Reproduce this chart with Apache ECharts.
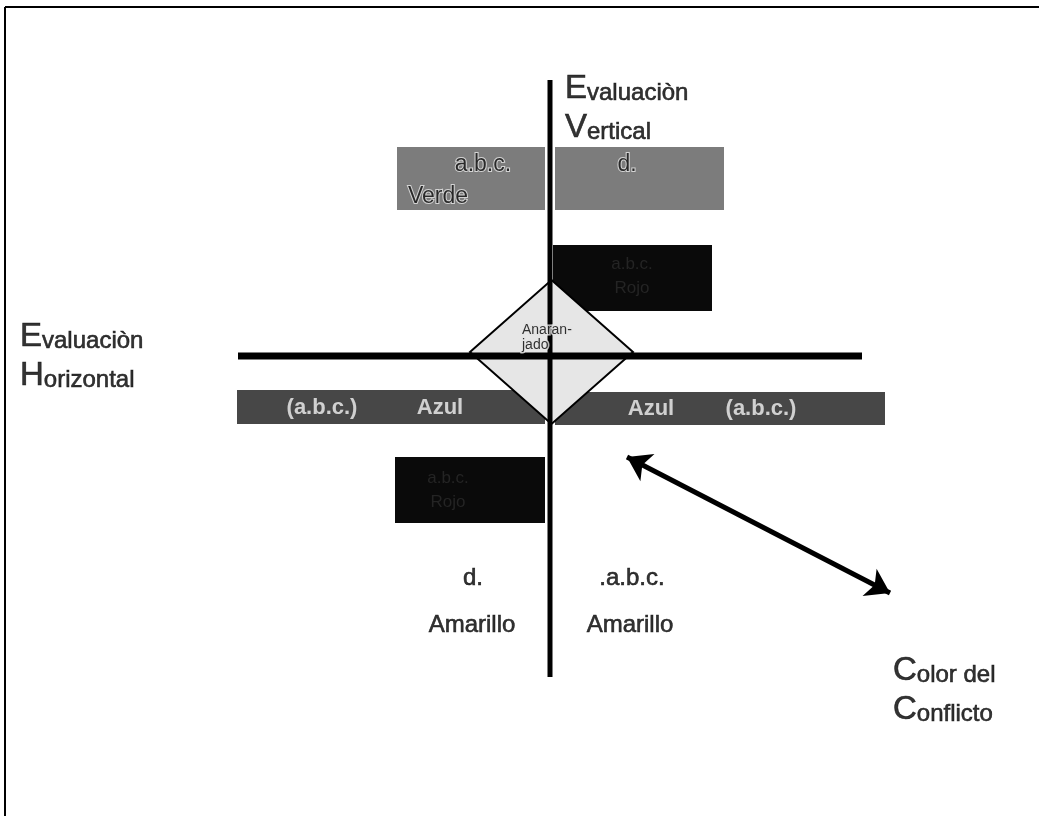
<!DOCTYPE html>
<html><head><meta charset="utf-8">
<script src="https://cdn.jsdelivr.net/npm/echarts@6/dist/echarts.min.js"></script>
<style>html,body{margin:0;padding:0;background:#fff}#c{width:1039px;height:816px}</style>
</head><body><div id="c"></div>
<script>
// Diagram coordinates (units), origin at the crossing of the two evaluation axes
const boxKinds = ['verde', 'verde', 'rojo', 'azul', 'azul', 'rojo'];
const boxX1 = [-15.3, 0.5, 0.3, -31.3, 0.5, -15.5];
const boxX2 = [-0.5, 17.4, 16.2, -0.5, 33.5, -0.5];
const boxY1 = [20.9, 20.9, 11.1, -3.4, -3.6, -10.1];
const boxY2 = [14.6, 14.6, 4.5, -6.8, -6.9, -16.7];

const diamondCenter = [0.15, 0.4];
const diamondHalf = [8.15, 7.2];

const lineKinds = ['vertical', 'horizontal', 'frame', 'frame'];
const lineX1 = [0, -31.2, -54.5, -54.5];
const lineY1 = [27.6, 0, 34.9, 34.9];
const lineX2 = [0, 31.2, 48.9, -54.5];
const lineY2 = [-32.1, 0, 34.9, -46];

const arrowFrom = [7.7, -10.1];
const arrowTo = [34.0, -23.7];

const titleLines = [['Evaluaciòn', 'Vertical'], ['Evaluaciòn', 'Horizontal'], ['Color del', 'Conflicto']];
const titleX = [1.5, -53.0, 34.3];
const titleY = [25.05, 0.25, -33.1];

const labelTexts = ['a.b.c.', 'Verde', 'd.', 'a.b.c.\nRojo', '(a.b.c.)', 'Azul', 'Azul', '(a.b.c.)',
  'a.b.c.\nRojo', 'Anaran-\njado', 'd.', 'Amarillo', '.a.b.c.', 'Amarillo'];
const labelKinds = ['verde', 'verde', 'verde', 'rojo', 'azul', 'azul', 'azul', 'azul',
  'rojo', 'naranja', 'amarillo', 'amarillo', 'amarillo', 'amarillo'];
const labelX = [-6.7, -11.2, 7.7, 8.2, -22.8, -11.0, 10.1, 21.1, -10.2, -2.8, -7.7, -7.8, 8.2, 8.0];
const labelY = [19.1, 15.9, 19.1, 8.0, -5.2, -5.2, -5.3, -5.3, -13.4, 1.85, -22.2, -26.9, -22.2, -26.9];

// ---- styles ----
const FONT = "'Liberation Sans', Arial, sans-serif";
const boxFill = { verde: '#7c7c7c', azul: '#474747', rojo: '#0a0a0a' };
const lineWidth = { vertical: 5, horizontal: 7, frame: 2 };
const labelStyle = {
  verde: { fontSize: 23, color: '#000', textBorderColor: '#e8e8e8', textBorderWidth: 2 },
  azul: { fontSize: 22, fontWeight: 'bold', color: '#f2f2f2' },
  rojo: { fontSize: 17, color: '#2a2a2a', lineHeight: 24 },
  naranja: { fontSize: 14, color: '#000', lineHeight: 15, align: 'left', textBorderColor: '#e4e4e4', textBorderWidth: 3 },
  amarillo: { fontSize: 24, color: '#000', textBorderColor: '#000', textBorderWidth: 0.6 }
};

const chart = echarts.init(document.getElementById('c'), null, { renderer: 'canvas' });
chart.setOption({
  animation: false,
  backgroundColor: '#fff',
  grid: { left: 0, right: 0, top: 0, bottom: 0 },
  xAxis: { type: 'value', min: -55.0, max: 48.9, show: false },
  yAxis: { type: 'value', min: -46.0, max: 35.6, show: false },
  series: [
    {
      type: 'custom', z: 1,
      data: boxX1.map((x, i) => [x, boxY1[i], boxX2[i], boxY2[i]]),
      renderItem: (params, api) => {
        const p1 = api.coord([api.value(0), api.value(1)]);
        const p2 = api.coord([api.value(2), api.value(3)]);
        return {
          type: 'rect',
          shape: { x: Math.min(p1[0], p2[0]), y: Math.min(p1[1], p2[1]),
                   width: Math.abs(p2[0] - p1[0]), height: Math.abs(p2[1] - p1[1]) },
          style: { fill: boxFill[boxKinds[params.dataIndex]] }
        };
      }
    },
    {
      type: 'custom', z: 2,
      data: [[diamondCenter[0], diamondCenter[1], diamondHalf[0], diamondHalf[1]]],
      renderItem: (params, api) => {
        const cx = api.value(0), cy = api.value(1), hw = api.value(2), hh = api.value(3);
        const pts = [[cx, cy + hh], [cx + hw, cy], [cx, cy - hh], [cx - hw, cy]].map(p => api.coord(p));
        return { type: 'polygon', shape: { points: pts }, style: { fill: '#e6e6e6', stroke: '#000', lineWidth: 2 } };
      }
    },
    {
      type: 'custom', z: 3,
      data: lineX1.map((x, i) => [x, lineY1[i], lineX2[i], lineY2[i]]),
      renderItem: (params, api) => {
        const p1 = api.coord([api.value(0), api.value(1)]);
        const p2 = api.coord([api.value(2), api.value(3)]);
        return {
          type: 'line',
          shape: { x1: p1[0], y1: p1[1], x2: p2[0], y2: p2[1] },
          style: { stroke: '#000', lineWidth: lineWidth[lineKinds[params.dataIndex]] }
        };
      }
    },
    {
      type: 'lines', coordinateSystem: 'cartesian2d', z: 3,
      symbol: ['arrow', 'arrow'], symbolSize: 23,
      lineStyle: { color: '#000', width: 5, opacity: 1 },
      data: [{ coords: [arrowFrom, arrowTo] }]
    },
    {
      type: 'scatter', z: 5, symbolSize: 0, silent: true,
      data: titleLines.map((t, i) => ({ value: [titleX[i], titleY[i]], name: t.join('|') })),
      label: {
        show: true, position: 'inside', align: 'left', verticalAlign: 'middle',
        fontFamily: FONT, color: '#000',
        formatter: p => p.name.split('|').map(l => '{b|' + l[0] + '}{s|' + l.slice(1) + '}').join('\n'),
        rich: {
          b: { fontSize: 33, fontFamily: FONT, color: '#000', lineHeight: 39, verticalAlign: 'bottom',
               textBorderColor: '#000', textBorderWidth: 0.6 },
          s: { fontSize: 24, fontFamily: FONT, color: '#000', lineHeight: 33, verticalAlign: 'bottom',
               textBorderColor: '#000', textBorderWidth: 0.6 }
        }
      }
    },
    {
      type: 'scatter', z: 6, symbolSize: 0, silent: true,
      data: labelTexts.map((t, i) => ({
        value: [labelX[i], labelY[i]], name: t,
        label: Object.assign({ fontFamily: FONT }, labelStyle[labelKinds[i]])
      })),
      label: { show: true, position: 'inside', formatter: '{b}', align: 'center', verticalAlign: 'middle' }
    }
  ]
});
</script>
</body></html>
